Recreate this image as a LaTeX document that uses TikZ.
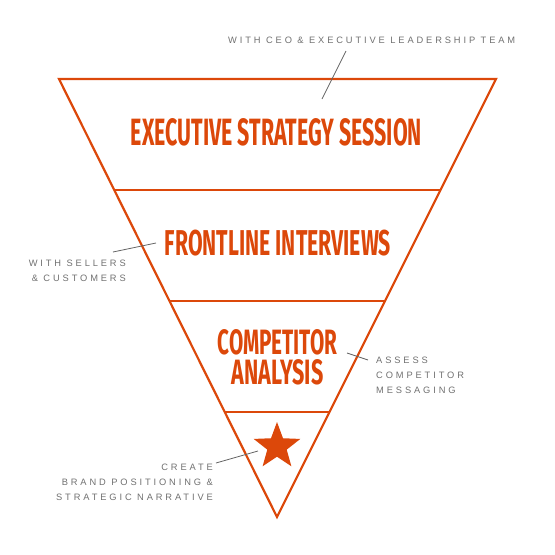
\documentclass[tikz,border=0pt]{standalone}
\usepackage{fontspec}
\usetikzlibrary{shapes.geometric,calc}
\newfontfamily\headfont{Fira Sans}
\newfontfamily\notefont[LetterSpace=31]{Liberation Sans}
\definecolor{funnelorange}{RGB}{220,72,10}
\definecolor{notegray}{RGB}{112,112,112}
\definecolor{leadgray}{RGB}{100,100,100}
\newcommand{\headtext}[3]{\resizebox{#1}{#2}{\headfont\bfseries #3}}
\begin{document}
\begin{tikzpicture}[x=1pt,y=-1pt,
  funnel/.style={draw=funnelorange,line width=2.2pt,line join=miter},
  divider/.style={draw=funnelorange,line width=2.2pt},
  headline/.style={anchor=base,inner sep=0pt,text=funnelorange},
  note/.style={inner sep=0pt,text=notegray,font=\notefont\fontsize{9.3}{15}\selectfont},
  leader/.style={draw=leadgray,line width=0.8pt},
  starmark/.style={star,star points=5,star point ratio=2.4,fill=funnelorange,minimum size=49pt,inner sep=0pt}]
\useasboundingbox (0,0) rectangle (555,555);
% funnel outline
\coordinate (tl) at (59,79);
\coordinate (tr) at (496,79);
\coordinate (apex) at (277,517);
\draw[funnel] (tl) -- (tr) -- (apex) -- cycle;
% dividers
\coordinate (d1l) at ($(tl)!0.2534!(apex)$);
\coordinate (d1r) at ($(tr)!0.2534!(apex)$);
\coordinate (d2l) at ($(tl)!0.5068!(apex)$);
\coordinate (d2r) at ($(tr)!0.5068!(apex)$);
\coordinate (d3l) at ($(tl)!0.7603!(apex)$);
\coordinate (d3r) at ($(tr)!0.7603!(apex)$);
\draw[divider] (d1l) -- (d1r);
\draw[divider] (d2l) -- (d2r);
\draw[divider] (d3l) -- (d3r);
% headlines
\node[headline] (exec) at (276.5,145) {\headtext{291pt}{27pt}{EXECUTIVE STRATEGY SESSION}};
\node[headline] (front) at (278,255) {\headtext{226pt}{25.5pt}{FRONTLINE INTERVIEWS}};
\node[headline,anchor=north,align=center,font=\fontsize{10}{30}\selectfont] (comp) at (277.5,329)
  {\headtext{120pt}{25pt}{COMPETITOR}\\\headtext{92pt}{25pt}{ANALYSIS}};
\node[starmark] (star) at (277,446.5) {};
% notes
\node[note,anchor=north west,align=left] (ceo) at (228,37) {WITH CEO \& EXECUTIVE LEADERSHIP TEAM};
\node[note,anchor=north east,align=right] (sell) at (126,260) {WITH SELLERS\\\& CUSTOMERS};
\node[note,anchor=north west,align=left] (assess) at (376,357) {ASSESS\\COMPETITOR\\MESSAGING};
\node[note,anchor=north east,align=right] (create) at (213,464) {CREATE\\BRAND POSITIONING \&\\STRATEGIC NARRATIVE};
% leaders
\coordinate (c1a) at (346,51);
\coordinate (c1b) at (322,99);
\coordinate (c2a) at (113,252);
\coordinate (c2b) at (156,243);
\coordinate (c3a) at (347,353);
\coordinate (c3b) at (368,360);
\coordinate (c4a) at (216,463);
\coordinate (c4b) at (258,451);
\draw[leader] (c1a) -- (c1b);
\draw[leader] (c2a) -- (c2b);
\draw[leader] (c3a) -- (c3b);
\draw[leader] (c4a) -- (c4b);
\end{tikzpicture}
\end{document}
